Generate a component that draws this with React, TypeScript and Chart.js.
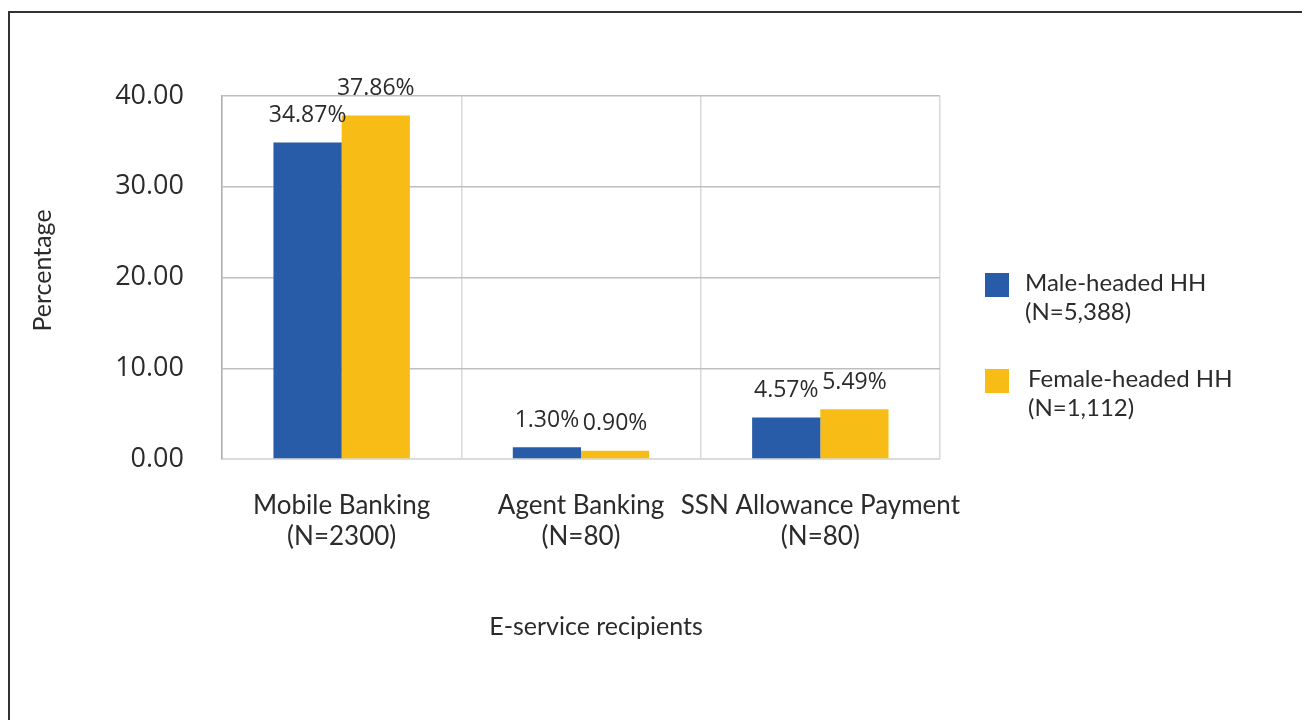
import React, { useEffect, useRef } from "react";
import { Chart, registerables } from "chart.js";

Chart.register(...registerables);

const categories: string[][] = [
  ["Mobile Banking", "(N=2300)"],
  ["Agent Banking", "(N=80)"],
  ["SSN Allowance Payment", "(N=80)"],
];
const maleValues = [34.87, 1.3, 4.57];
const femaleValues = [37.86, 0.9, 5.49];
const seriesLabels: string[][] = [
  ["Male-headed HH", "(N=5,388)"],
  ["Female-headed HH", "(N=1,112)"],
];
const yTicks = [0, 10, 20, 30, 40];
const xTitle = "E-service recipients";
const yTitle = "Percentage";

const BLUE = "#285CA8";
const YELLOW = "#F8BC16";
const TEXT = "#2b2b2b";
const SANS = "'Open Sans', 'DejaVu Sans', sans-serif";
const ALT = "Lato, 'Open Sans', sans-serif";

const extrasPlugin = {
  id: "extras",
  afterDatasetsDraw(chart: any) {
    const ctx = chart.ctx;
    const area = chart.chartArea;
    ctx.save();
    // value labels
    ctx.fillStyle = TEXT;
    ctx.font = `23px ${SANS}`;
    ctx.textAlign = "center";
    ctx.textBaseline = "middle";
    chart.data.datasets.forEach((ds: any, di: number) => {
      const meta = chart.getDatasetMeta(di);
      meta.data.forEach((bar: any, i: number) => {
        const v = ds.data[i];
        ctx.fillText(v.toFixed(2) + "%", bar.x, bar.y - 27);
      });
    });
    // axis titles
    ctx.font = `25px ${ALT}`;
    ctx.fillText(xTitle, (area.left + area.right) / 2 + 15, area.bottom + 168);
    ctx.save();
    ctx.translate(33, (area.top + area.bottom) / 2 - 7);
    ctx.rotate(-Math.PI / 2);
    ctx.fillText(yTitle, 0, 0);
    ctx.restore();
    // legend
    const colors = [BLUE, YELLOW];
    const bx = area.right + 45;
    const tops = [area.top + 177, area.top + 273];
    ctx.textAlign = "left";
    ctx.font = `24px ${ALT}`;
    seriesLabels.forEach((lines, i) => {
      ctx.fillStyle = colors[i];
      ctx.fillRect(bx, tops[i], 24, 24);
      ctx.fillStyle = TEXT;
      lines.forEach((ln, j) => {
        ctx.fillText(ln, bx + 40 + (i === 1 ? 3 : 0), tops[i] + 10 + j * 29);
      });
    });
    ctx.restore();
  },
};

export default function App() {
  const ref = useRef<HTMLCanvasElement>(null);
  useEffect(() => {
    if (!ref.current) return;
    const chart = new Chart(ref.current, {
      type: "bar",
      data: {
        labels: categories,
        datasets: [
          {
            label: seriesLabels[0].join(" "),
            data: maleValues,
            backgroundColor: BLUE,
            categoryPercentage: 0.57,
            barPercentage: 1,
          },
          {
            label: seriesLabels[1].join(" "),
            data: femaleValues,
            backgroundColor: YELLOW,
            categoryPercentage: 0.57,
            barPercentage: 1,
          },
        ],
      },
      options: {
        animation: false,
        responsive: false,
        layout: { padding: { left: 0, top: 83, right: 366, bottom: 170 } },
        plugins: {
          legend: { display: false },
          tooltip: { enabled: false },
          title: { display: false },
        },
        scales: {
          x: {
            afterFit: (s: any) => {
              s.height = 100;
            },
            grid: { color: "#d9d9d9", lineWidth: 1.5, drawTicks: false, offset: true },
            border: { color: "#d9d9d9", width: 1.5 },
            ticks: {
              color: TEXT,
              font: { family: ALT, size: 26, lineHeight: 1.2 },
              padding: 31,
              maxRotation: 0,
              autoSkip: false,
            },
          },
          y: {
            min: 0,
            max: 40,
            afterFit: (s: any) => {
              s.width = 212;
            },
            afterBuildTicks: (s: any) => {
              s.ticks = yTicks.map((v) => ({ value: v }));
            },
            grid: { color: "#bfbfbf", lineWidth: 1.5, drawTicks: false },
            border: { color: "#b0b0b0", width: 1.5 },
            ticks: {
              color: TEXT,
              font: { family: SANS, size: 27 },
              padding: 38,
              callback: (v: any) => Number(v).toFixed(2),
            },
          },
        },
      },
      plugins: [extrasPlugin],
    });
    return () => chart.destroy();
  }, []);
  return (
    <div
      style={{
        marginTop: 3,
        width: 1300,
        height: 720,
        border: "2px solid #333",
        boxSizing: "border-box",
        background: "#fff",
      }}
    >
      <canvas ref={ref} width={1296} height={716} style={{ display: "block" }} />
    </div>
  );
}
